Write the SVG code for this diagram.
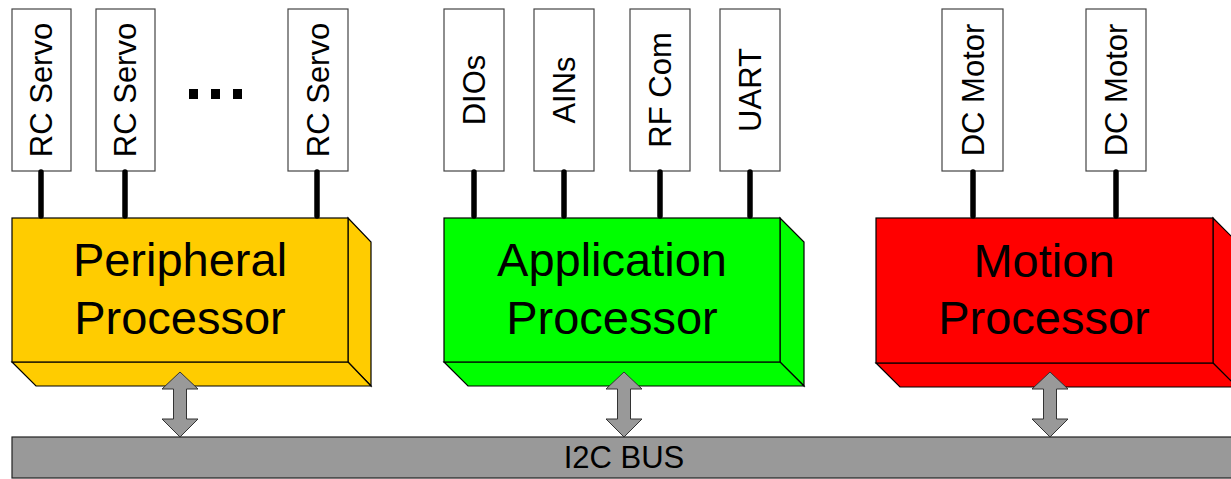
<svg xmlns="http://www.w3.org/2000/svg" width="1231" height="479" viewBox="0 0 1231 479">
<defs>
<style>
.io{fill:#fff;stroke:#444;stroke-width:1.2}
.iot{font-family:"Liberation Sans",Arial,sans-serif;font-size:31px;fill:#000;text-anchor:middle}
.face{stroke:#000;stroke-width:1.2;stroke-linejoin:miter}
.big{font-family:"Liberation Sans",Arial,sans-serif;font-size:47px;fill:#000;text-anchor:middle}
.wire{stroke:#000;stroke-width:5.5;stroke-linecap:round}
.arr{fill:#999;stroke:#333;stroke-width:1}
</style>
<polygon id="dblarrow" class="arr" points="0,0 18,17 6.5,17 6.5,47 18,47 0,65 -18,47 -6.5,47 -6.5,17 -18,17"/>
</defs>
<rect width="1231" height="479" fill="#fff"/>

<g id="bus">
<rect x="12" y="437" width="1230" height="41" fill="#999" stroke="#222" stroke-width="1.2"/>
<text x="624" y="468" font-family="'Liberation Sans',Arial,sans-serif" font-size="31" text-anchor="middle" fill="#000">I2C BUS</text>
</g>

<g id="servo1"><rect class="io" x="12" y="9" width="59" height="162"/><text class="iot" transform="translate(52,90) rotate(-90)">RC Servo</text></g>
<g id="servo2"><rect class="io" x="96" y="9" width="59" height="162"/><text class="iot" transform="translate(136,90) rotate(-90)">RC Servo</text></g>
<g id="ellipsis" fill="#000"><rect x="189" y="89" width="9" height="10"/><rect x="211" y="89" width="9" height="10"/><rect x="233" y="89" width="9" height="10"/></g>
<g id="servo3"><rect class="io" x="288" y="9" width="60" height="162"/><text class="iot" transform="translate(329,90) rotate(-90)">RC Servo</text></g>

<g id="dios"><rect class="io" x="444" y="9" width="60" height="162"/><text class="iot" transform="translate(485,90) rotate(-90)">DIOs</text></g>
<g id="ains"><rect class="io" x="534" y="9" width="60" height="162"/><text class="iot" transform="translate(575,90) rotate(-90)">AINs</text></g>
<g id="rfcom"><rect class="io" x="630" y="9" width="60" height="162"/><text class="iot" transform="translate(671,90) rotate(-90)">RF Com</text></g>
<g id="uart"><rect class="io" x="720" y="9" width="60" height="162"/><text class="iot" transform="translate(761,90) rotate(-90)">UART</text></g>

<g id="dcmotor1"><rect class="io" x="942" y="9" width="61" height="162"/><text class="iot" transform="translate(984,90) rotate(-90)">DC Motor</text></g>
<g id="dcmotor2"><rect class="io" x="1086" y="9" width="60" height="162"/><text class="iot" transform="translate(1127,90) rotate(-90)">DC Motor</text></g>

<g id="peripheral" fill="#FFCC00">
<polygon class="face" points="348,218 371,242 371,386 348,362"/>
<polygon class="face" points="12,362 348,362 371,386 36,386"/>
<rect class="face" x="12" y="218" width="336" height="144"/>
<text class="big" x="180" y="276">Peripheral</text>
<text class="big" x="180" y="334">Processor</text>
</g>

<g id="application" fill="#00FF00">
<polygon class="face" points="780,218 804,242 804,386 780,362"/>
<polygon class="face" points="444,362 780,362 804,386 468,386"/>
<rect class="face" x="444" y="218" width="336" height="144"/>
<text class="big" x="612" y="276">Application</text>
<text class="big" x="612" y="334">Processor</text>
</g>

<g id="motion" fill="#FF0000">
<polygon class="face" points="1213,218 1237,242 1237,387 1213,363"/>
<polygon class="face" points="876,363 1213,363 1237,387 900,387"/>
<rect class="face" x="876" y="218" width="337" height="145"/>
<text class="big" x="1044" y="277">Motion</text>
<text class="big" x="1044" y="334">Processor</text>
</g>

<g id="connectors">
<line class="wire" x1="41" y1="172" x2="41" y2="216"/>
<line class="wire" x1="125" y1="172" x2="125" y2="216"/>
<line class="wire" x1="317" y1="172" x2="317" y2="216"/>
<line class="wire" x1="474" y1="172" x2="474" y2="216"/>
<line class="wire" x1="564" y1="172" x2="564" y2="216"/>
<line class="wire" x1="660" y1="172" x2="660" y2="216"/>
<line class="wire" x1="750" y1="172" x2="750" y2="216"/>
<line class="wire" x1="973" y1="172" x2="973" y2="216"/>
<line class="wire" x1="1116" y1="172" x2="1116" y2="216"/>
<use href="#dblarrow" x="180" y="372"/>
<use href="#dblarrow" x="624" y="372"/>
<use href="#dblarrow" x="1050" y="372"/>
</g>
</svg>
